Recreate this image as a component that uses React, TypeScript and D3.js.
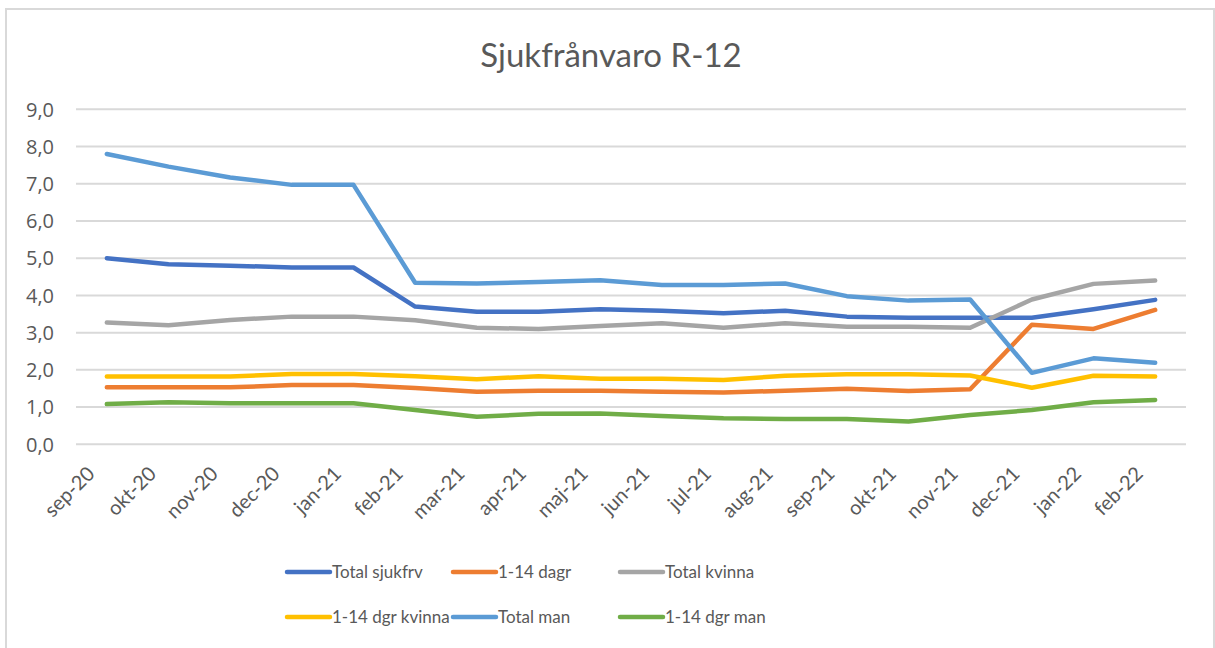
import React from "react";
import * as d3 from "d3";

const categories = [
  "sep-20", "okt-20", "nov-20", "dec-20", "jan-21", "feb-21", "mar-21", "apr-21", "maj-21",
  "jun-21", "jul-21", "aug-21", "sep-21", "okt-21", "nov-21", "dec-21", "jan-22", "feb-22",
];

const totalSjukfrv = [5.0, 4.84, 4.8, 4.75, 4.75, 3.7, 3.56, 3.56, 3.63, 3.59, 3.52, 3.59, 3.43, 3.4, 3.4, 3.4, 3.63, 3.88];
const dagr114 = [1.53, 1.53, 1.53, 1.59, 1.59, 1.51, 1.41, 1.44, 1.44, 1.41, 1.39, 1.44, 1.49, 1.43, 1.48, 3.21, 3.1, 3.61];
const totalKvinna = [3.27, 3.2, 3.34, 3.43, 3.43, 3.33, 3.13, 3.1, 3.18, 3.25, 3.13, 3.25, 3.16, 3.16, 3.13, 3.89, 4.31, 4.4];
const dgrKvinna = [1.82, 1.82, 1.82, 1.89, 1.89, 1.83, 1.75, 1.83, 1.76, 1.76, 1.73, 1.84, 1.88, 1.88, 1.85, 1.52, 1.84, 1.82];
const totalMan = [7.8, 7.46, 7.17, 6.97, 6.97, 4.34, 4.32, 4.36, 4.41, 4.28, 4.28, 4.32, 3.98, 3.86, 3.89, 1.92, 2.31, 2.19];
const dgrMan = [1.08, 1.13, 1.1, 1.1, 1.1, 0.92, 0.74, 0.82, 0.83, 0.76, 0.7, 0.68, 0.68, 0.61, 0.79, 0.92, 1.13, 1.19];

const seriesNames = ["Total sjukfrv", "1-14 dagr", "Total kvinna", "1-14 dgr kvinna", "Total man", "1-14 dgr man"];
const seriesColors = ["#4472C4", "#ED7D31", "#A5A5A5", "#FFC000", "#5B9BD5", "#70AD47"];
const seriesValues = [totalSjukfrv, dagr114, totalKvinna, dgrKvinna, totalMan, dgrMan];

const yTicks = [0, 1, 2, 3, 4, 5, 6, 7, 8, 9];
const title = "Sjukfrånvaro R-12";

const W = 1215;
const H = 648;
const LATO = "Lato, 'Open Sans', sans-serif";
const OPEN = "'Open Sans', Lato, sans-serif";
const TEXT = "#595959";

export default function App() {
  const x = d3.scaleBand<string>().domain(categories).range([76, 1186]).padding(0);
  const y = d3.scaleLinear().domain([0, 9]).range([444.3, 109.3]);
  const cx = (c: string) => (x(c) as number) + x.bandwidth() / 2;

  const line = d3
    .line<number>()
    .x((_, i) => cx(categories[i]))
    .y((v) => y(v));

  const fmt = (v: number) => v.toFixed(1).replace(".", ",");

  const legendCols = [287, 453, 620];
  const legendRows = [572, 617];

  return (
    <svg
      width={W}
      height={H}
      style={{ position: "absolute", left: 0, top: 0, background: "#fff" }}
      fontFamily={LATO}
    >
      <rect x={0} y={0} width={W} height={H} fill="#fff" />
      <rect x={6} y={9} width={1208} height={660} fill="none" stroke="#D9D9D9" strokeWidth={2} />

      <text x={611} y={67} textAnchor="middle" fontSize={33} fill={TEXT}>
        {title}
      </text>

      {yTicks.map((t) => (
        <g key={t}>
          <line x1={76} x2={1186} y1={y(t)} y2={y(t)} stroke="#D9D9D9" strokeWidth={2} />
          <text x={54} y={y(t)} dy="0.36em" textAnchor="end" fontSize={20} fontFamily={OPEN} fill={TEXT}>
            {fmt(t)}
          </text>
        </g>
      ))}

      {categories.map((c) => (
        <text
          key={c}
          transform={`translate(${cx(c) - 11},${475}) rotate(-45)`}
          textAnchor="end"
          fontSize={20}
          fill={TEXT}
        >
          {c}
        </text>
      ))}

      {seriesValues.map((vals, i) => (
        <path
          key={seriesNames[i]}
          d={line(vals) as string}
          fill="none"
          stroke={seriesColors[i]}
          strokeWidth={4.5}
          strokeLinejoin="round"
          strokeLinecap="round"
        />
      ))}

      {seriesNames.map((name, i) => {
        const lx = legendCols[i % 3];
        const ly = legendRows[Math.floor(i / 3)];
        return (
          <g key={name}>
            <line x1={lx} x2={lx + 43} y1={ly} y2={ly} stroke={seriesColors[i]} strokeWidth={4.5} strokeLinecap="round" />
            <text x={lx + 45} y={ly} dy="0.36em" fontSize={17} fill={TEXT}>
              {name}
            </text>
          </g>
        );
      })}
    </svg>
  );
}
